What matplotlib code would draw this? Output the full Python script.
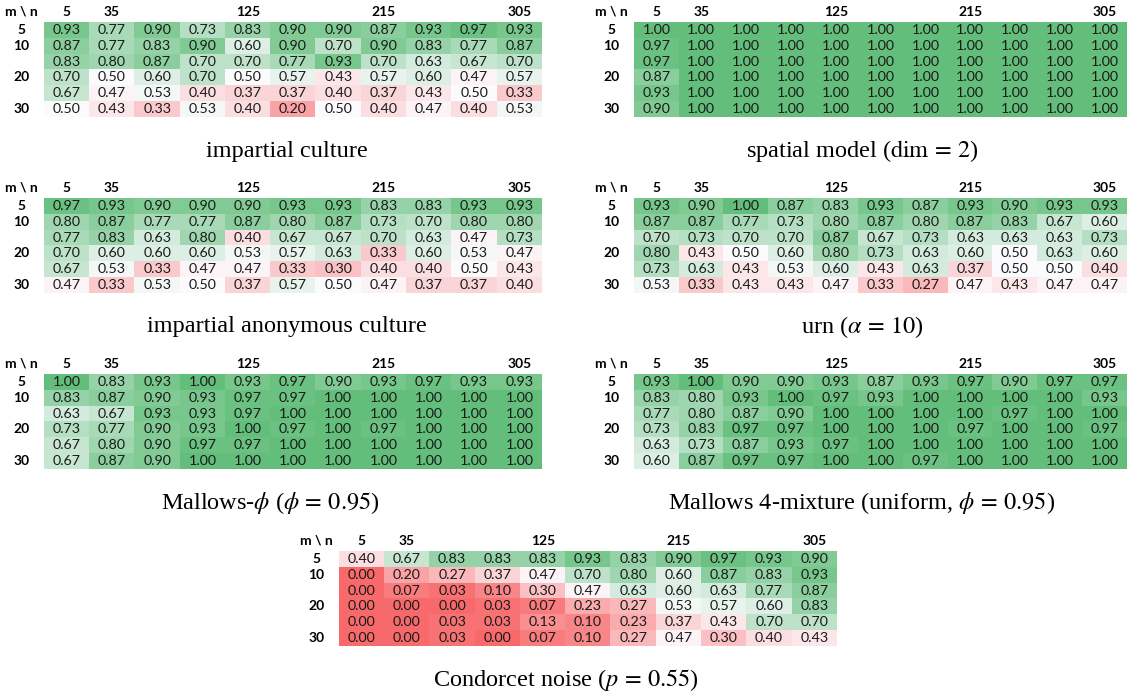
import numpy as np
import matplotlib.pyplot as plt
from matplotlib.colors import LinearSegmentedColormap

n_values = [5, 35, 65, 95, 125, 155, 185, 215, 245, 275, 305]
m_values = [5, 10, 15, 20, 25, 30]
col_labels = ["5", "35", "", "", "125", "", "", "215", "", "", "305"]
row_labels = ["5", "10", "", "20", "", "30"]

impartial_culture = [
    [0.93, 0.77, 0.90, 0.73, 0.83, 0.90, 0.90, 0.87, 0.93, 0.97, 0.93],
    [0.87, 0.77, 0.83, 0.90, 0.60, 0.90, 0.70, 0.90, 0.83, 0.77, 0.87],
    [0.83, 0.80, 0.87, 0.70, 0.70, 0.77, 0.93, 0.70, 0.63, 0.67, 0.70],
    [0.70, 0.50, 0.60, 0.70, 0.50, 0.57, 0.43, 0.57, 0.60, 0.47, 0.57],
    [0.67, 0.47, 0.53, 0.40, 0.37, 0.37, 0.40, 0.37, 0.43, 0.50, 0.33],
    [0.50, 0.43, 0.33, 0.53, 0.40, 0.20, 0.50, 0.40, 0.47, 0.40, 0.53],
]

spatial_model = [
    [1.00, 1.00, 1.00, 1.00, 1.00, 1.00, 1.00, 1.00, 1.00, 1.00, 1.00],
    [0.97, 1.00, 1.00, 1.00, 1.00, 1.00, 1.00, 1.00, 1.00, 1.00, 1.00],
    [0.97, 1.00, 1.00, 1.00, 1.00, 1.00, 1.00, 1.00, 1.00, 1.00, 1.00],
    [0.87, 1.00, 1.00, 1.00, 1.00, 1.00, 1.00, 1.00, 1.00, 1.00, 1.00],
    [0.93, 1.00, 1.00, 1.00, 1.00, 1.00, 1.00, 1.00, 1.00, 1.00, 1.00],
    [0.90, 1.00, 1.00, 1.00, 1.00, 1.00, 1.00, 1.00, 1.00, 1.00, 1.00],
]

impartial_anonymous = [
    [0.97, 0.93, 0.90, 0.90, 0.90, 0.93, 0.93, 0.83, 0.83, 0.93, 0.93],
    [0.80, 0.87, 0.77, 0.77, 0.87, 0.80, 0.87, 0.73, 0.70, 0.80, 0.80],
    [0.77, 0.83, 0.63, 0.80, 0.40, 0.67, 0.67, 0.70, 0.63, 0.47, 0.73],
    [0.70, 0.60, 0.60, 0.60, 0.53, 0.57, 0.63, 0.33, 0.60, 0.53, 0.47],
    [0.67, 0.53, 0.33, 0.47, 0.47, 0.33, 0.30, 0.40, 0.40, 0.50, 0.43],
    [0.47, 0.33, 0.53, 0.50, 0.37, 0.57, 0.50, 0.47, 0.37, 0.37, 0.40],
]

urn = [
    [0.93, 0.90, 1.00, 0.87, 0.83, 0.93, 0.87, 0.93, 0.90, 0.93, 0.93],
    [0.87, 0.87, 0.77, 0.73, 0.80, 0.87, 0.80, 0.87, 0.83, 0.67, 0.60],
    [0.70, 0.73, 0.70, 0.70, 0.87, 0.67, 0.73, 0.63, 0.63, 0.63, 0.73],
    [0.80, 0.43, 0.50, 0.60, 0.80, 0.73, 0.63, 0.60, 0.50, 0.63, 0.60],
    [0.73, 0.63, 0.43, 0.53, 0.60, 0.43, 0.63, 0.37, 0.50, 0.50, 0.40],
    [0.53, 0.33, 0.43, 0.43, 0.47, 0.33, 0.27, 0.47, 0.43, 0.47, 0.47],
]

mallows = [
    [1.00, 0.83, 0.93, 1.00, 0.93, 0.97, 0.90, 0.93, 0.97, 0.93, 0.93],
    [0.83, 0.87, 0.90, 0.93, 0.97, 0.97, 1.00, 1.00, 1.00, 1.00, 1.00],
    [0.63, 0.67, 0.93, 0.93, 0.97, 1.00, 1.00, 1.00, 1.00, 1.00, 1.00],
    [0.73, 0.77, 0.90, 0.93, 1.00, 0.97, 1.00, 0.97, 1.00, 1.00, 1.00],
    [0.67, 0.80, 0.90, 0.97, 0.97, 1.00, 1.00, 1.00, 1.00, 1.00, 1.00],
    [0.67, 0.87, 0.90, 1.00, 1.00, 1.00, 1.00, 1.00, 1.00, 1.00, 1.00],
]

mallows_mix = [
    [0.93, 1.00, 0.90, 0.90, 0.93, 0.87, 0.93, 0.97, 0.90, 0.97, 0.97],
    [0.83, 0.80, 0.93, 1.00, 0.97, 0.93, 1.00, 1.00, 1.00, 1.00, 0.93],
    [0.77, 0.80, 0.87, 0.90, 1.00, 1.00, 1.00, 1.00, 0.97, 1.00, 1.00],
    [0.73, 0.83, 0.97, 0.97, 1.00, 1.00, 1.00, 0.97, 1.00, 1.00, 0.97],
    [0.63, 0.73, 0.87, 0.93, 0.97, 1.00, 1.00, 1.00, 1.00, 1.00, 1.00],
    [0.60, 0.87, 0.97, 0.97, 1.00, 1.00, 0.97, 1.00, 1.00, 1.00, 1.00],
]

condorcet = [
    [0.40, 0.67, 0.83, 0.83, 0.83, 0.93, 0.83, 0.90, 0.97, 0.93, 0.90],
    [0.00, 0.20, 0.27, 0.37, 0.47, 0.70, 0.80, 0.60, 0.87, 0.83, 0.93],
    [0.00, 0.07, 0.03, 0.10, 0.30, 0.47, 0.63, 0.60, 0.63, 0.77, 0.87],
    [0.00, 0.00, 0.00, 0.03, 0.07, 0.23, 0.27, 0.53, 0.57, 0.60, 0.83],
    [0.00, 0.00, 0.03, 0.03, 0.13, 0.10, 0.23, 0.37, 0.43, 0.70, 0.70],
    [0.00, 0.00, 0.03, 0.00, 0.07, 0.10, 0.27, 0.47, 0.30, 0.40, 0.43],
]

W, H = 1128, 700
# red -> white -> green, fixed at 0 / 0.5 / 1
cmap = LinearSegmentedColormap.from_list(
    "rwg", [(0.0, "#F8696B"), (0.5, "#FCFCFF"), (1.0, "#63BE7B")])

plt.rcParams["mathtext.fontset"] = "stix"
num_font = "Lato"
cap_font = "Liberation Serif"


def draw_table(fig, x0, y0, x1, y1, data, caption, cap_x):
    data = np.array(data)
    ax = fig.add_axes([x0 / W, 1 - y1 / H, (x1 - x0) / W, (y1 - y0) / H])
    ax.imshow(data, cmap=cmap, vmin=0, vmax=1, aspect="auto",
              interpolation="nearest")
    ax.set_xlim(-0.5, len(n_values) - 0.5)
    ax.set_ylim(len(m_values) - 0.5, -0.5)
    ax.axis("off")

    for i in range(data.shape[0]):
        for j in range(data.shape[1]):
            ax.text(j, i, f"{data[i, j]:.2f}", ha="center", va="center",
                    fontsize=10.3, family=num_font, color="#1a1a1a")

    for j, lab in enumerate(col_labels):
        ax.text(j, -1.15, lab, ha="center", va="center", fontsize=10,
                family=num_font, fontweight="bold", clip_on=False)
    for i, lab in enumerate(row_labels):
        ax.text(-1.0, i, lab, ha="center", va="center", fontsize=10,
                family=num_font, fontweight="bold", clip_on=False)
    ax.text(-1.0, -1.15, "m \\ n", ha="center", va="center", fontsize=10,
            family=num_font, fontweight="bold", clip_on=False)

    fig.text(cap_x / W, 1 - (y1 + 34) / H, caption, ha="center",
             va="center", fontsize=17.5, family=cap_font)


fig = plt.figure(figsize=(W / 100, H / 100), dpi=100)

draw_table(fig, 44, 22, 542, 117, impartial_culture,
           "impartial culture", 287)
draw_table(fig, 634, 22, 1127, 117, spatial_model,
           r"spatial model ($\mathrm{dim}\,=\,2$)", 862)
draw_table(fig, 44, 198, 542, 293, impartial_anonymous,
           "impartial anonymous culture", 287)
draw_table(fig, 634, 198, 1127, 293, urn,
           r"urn ($\alpha\,=\,10$)", 862)
draw_table(fig, 44, 374, 542, 469, mallows,
           r"Mallows-$\phi$ ($\phi\,=\,0.95$)", 270)
draw_table(fig, 634, 374, 1127, 469, mallows_mix,
           r"Mallows 4-mixture (uniform, $\phi\,=\,0.95$)", 862)
draw_table(fig, 339, 551, 837, 646, condorcet,
           r"Condorcet noise ($p\,=\,0.55$)", 566)

plt.savefig("out.png", dpi=100)
